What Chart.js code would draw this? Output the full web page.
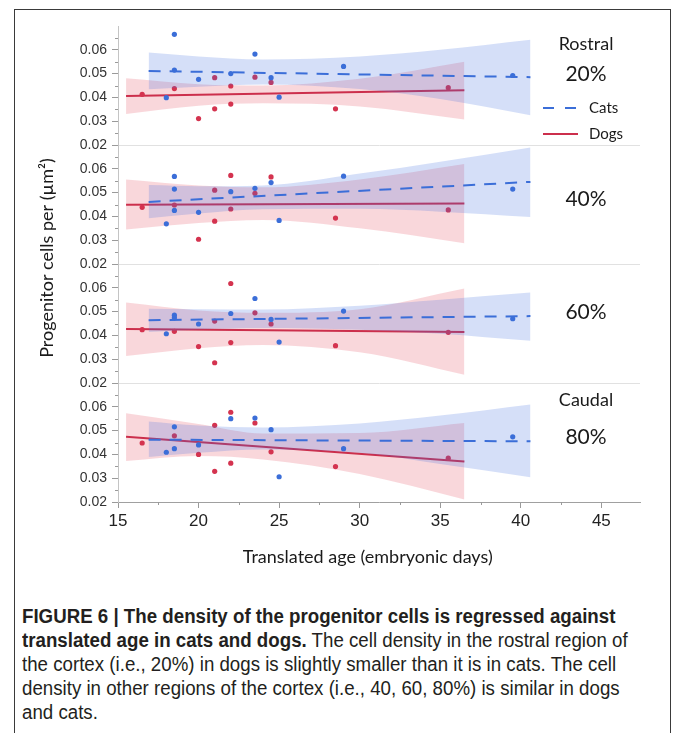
<!DOCTYPE html>
<html>
<head>
<meta charset="utf-8">
<script src="https://cdn.jsdelivr.net/npm/chart.js"></script>
<style>
  body { margin: 0; background: #fff; }
  #frame { position: absolute; left: 14px; top: 9px; width: 655px; height: 780px; border: 1px solid #3a3a3a; }
  #chart { position: absolute; left: 0; top: 0; }
  #caption {
    position: absolute; left: 22px; top: 604px; white-space: nowrap;
    font-family: "Liberation Sans Narrow", "Arial Narrow", "Liberation Sans", sans-serif;
    font-size: 20px; line-height: 24px; color: #231f20;
    transform: scaleX(0.935); transform-origin: 0 0;
  }
</style>
</head>
<body>
<div id="frame"></div>
<canvas id="chart" width="675" height="580"></canvas>
<div id="caption"><b>FIGURE 6 | The density of the progenitor cells is regressed against<br>translated age in cats and dogs.</b> The cell density in the rostral region of<br>the cortex (i.e., 20%) in dogs is slightly smaller than it is in cats. The cell<br>density in other regions of the cortex (i.e., 40, 60, 80%) is similar in dogs<br>and cats.</div>
<script>
// shared x values for the fitted lines and confidence bands
const catsFitAge = [16.9, 40.6];
const dogsFitAge = [15.5, 36.5];
const catsBandAge = [16.9, 20, 24, 30, 35, 40.6];
const dogsBandAge = [15.5, 20, 24, 30, 36.5];

// Rostral 20%
const p20CatsAge = [18, 18.5, 18.5, 20, 22, 23.5, 24.5, 25, 29, 39.5];
const p20CatsDensity = [0.0399, 0.0665, 0.0515, 0.0476, 0.0500, 0.0582, 0.0483, 0.0401, 0.0530, 0.0492];
const p20DogsAge = [16.5, 18.5, 20, 21, 21, 22, 22, 23.5, 24.5, 28.5, 35.5];
const p20DogsDensity = [0.0413, 0.0437, 0.0311, 0.0483, 0.0352, 0.0448, 0.0372, 0.0485, 0.0463, 0.0352, 0.0441];
const p20CatsFit = [0.0511, 0.0485];
const p20DogsFit = [0.0406, 0.0430];
const p20CatsUpper = [0.0589, 0.0572, 0.0559, 0.0572, 0.0600, 0.0642];
const p20CatsLower = [0.0434, 0.0445, 0.0454, 0.0435, 0.0393, 0.0325];
const p20DogsUpper = [0.0480, 0.0455, 0.0450, 0.0478, 0.0550];
const p20DogsLower = [0.0330, 0.0365, 0.0375, 0.0362, 0.0307];

// 40%
const p40CatsAge = [18, 18.5, 18.5, 18.5, 20, 22, 23.5, 24.5, 25, 29, 39.5];
const p40CatsDensity = [0.0369, 0.0568, 0.0515, 0.0425, 0.0417, 0.0504, 0.0518, 0.0542, 0.0383, 0.0569, 0.0515];
const p40DogsAge = [16.5, 18.5, 20, 21, 21, 22, 22, 23.5, 24.5, 28.5, 35.5];
const p40DogsDensity = [0.0438, 0.0448, 0.0304, 0.0510, 0.0380, 0.0572, 0.0431, 0.0497, 0.0566, 0.0393, 0.0427];
const p40CatsFit = [0.0461, 0.0545];
const p40DogsFit = [0.0449, 0.0454];
const p40CatsUpper = [0.0532, 0.0527, 0.0530, 0.0580, 0.0630, 0.0690];
const p40CatsLower = [0.0392, 0.0412, 0.0430, 0.0432, 0.0420, 0.0397];
const p40DogsUpper = [0.0555, 0.0530, 0.0522, 0.0555, 0.0620];
const p40DogsLower = [0.0345, 0.0372, 0.0385, 0.0350, 0.0287];

// 60%
const p60CatsAge = [18, 18.5, 18.5, 20, 22, 23.5, 24.5, 25, 29, 39.5];
const p60CatsDensity = [0.0407, 0.0485, 0.0474, 0.0448, 0.0492, 0.0555, 0.0467, 0.0372, 0.0502, 0.0470];
const p60DogsAge = [16.5, 18.5, 20, 21, 21, 22, 22, 23.5, 24.5, 28.5, 35.5];
const p60DogsDensity = [0.0424, 0.0417, 0.0353, 0.0460, 0.0285, 0.0618, 0.0370, 0.0495, 0.0448, 0.0357, 0.0413];
const p60CatsFit = [0.0464, 0.0481];
const p60DogsFit = [0.0427, 0.0414];
const p60CatsUpper = [0.0512, 0.0510, 0.0509, 0.0525, 0.0550, 0.0580];
const p60CatsLower = [0.0414, 0.0425, 0.0431, 0.0424, 0.0407, 0.0377];
const p60DogsUpper = [0.0538, 0.0505, 0.0495, 0.0510, 0.0597];
const p60DogsLower = [0.0313, 0.0346, 0.0360, 0.0329, 0.0235];

// Caudal 80%
const p80CatsAge = [18, 18.5, 18.5, 20, 22, 23.5, 24.5, 25, 29, 39.5];
const p80CatsDensity = [0.0409, 0.0516, 0.0424, 0.0440, 0.0550, 0.0553, 0.0504, 0.0306, 0.0424, 0.0474];
const p80DogsAge = [16.5, 18.5, 20, 21, 21, 22, 22, 23.5, 24.5, 28.5, 35.5];
const p80DogsDensity = [0.0448, 0.0478, 0.0400, 0.0522, 0.0329, 0.0577, 0.0363, 0.0532, 0.0411, 0.0349, 0.0384];
const p80CatsFit = [0.0462, 0.0455];
const p80DogsFit = [0.0474, 0.0370];
const p80CatsUpper = [0.0538, 0.0521, 0.0513, 0.0530, 0.0563, 0.0610];
const p80CatsLower = [0.0389, 0.0407, 0.0421, 0.0407, 0.0360, 0.0304];
const p80DogsUpper = [0.0573, 0.0528, 0.0488, 0.0490, 0.0532];
const p80DogsLower = [0.0372, 0.0393, 0.0379, 0.0318, 0.0211];

const xTicks = [15, 20, 25, 30, 35, 40, 45];
const yTicks = [0.02, 0.03, 0.04, 0.05, 0.06];
const regionNames = ['Rostral', '', '', 'Caudal'];
const regionPercents = ['20%', '40%', '60%', '80%'];

const catBlue = '#3b6ed8';
const dogRed = '#d4334f';

const pts = (xs, ys) => xs.map((x, i) => ({x: x, y: ys[i]}));

const panels = [
  {id: 'y20', cats: [p20CatsAge, p20CatsDensity], dogs: [p20DogsAge, p20DogsDensity], catsFit: p20CatsFit, dogsFit: p20DogsFit,
   catsBand: [p20CatsLower, p20CatsUpper], dogsBand: [p20DogsLower, p20DogsUpper]},
  {id: 'y40', cats: [p40CatsAge, p40CatsDensity], dogs: [p40DogsAge, p40DogsDensity], catsFit: p40CatsFit, dogsFit: p40DogsFit,
   catsBand: [p40CatsLower, p40CatsUpper], dogsBand: [p40DogsLower, p40DogsUpper]},
  {id: 'y60', cats: [p60CatsAge, p60CatsDensity], dogs: [p60DogsAge, p60DogsDensity], catsFit: p60CatsFit, dogsFit: p60DogsFit,
   catsBand: [p60CatsLower, p60CatsUpper], dogsBand: [p60DogsLower, p60DogsUpper]},
  {id: 'y80', cats: [p80CatsAge, p80CatsDensity], dogs: [p80DogsAge, p80DogsDensity], catsFit: p80CatsFit, dogsFit: p80DogsFit,
   catsBand: [p80CatsLower, p80CatsUpper], dogsBand: [p80DogsLower, p80DogsUpper]}
];

const datasets = [];
panels.forEach(p => {
  // dog band (lower then upper filled to it)
  datasets.push({data: pts(dogsBandAge, p.dogsBand[0]), yAxisID: p.id, showLine: true, pointRadius: 0,
    borderColor: 'transparent', borderWidth: 0, cubicInterpolationMode: 'monotone', order: 6});
  datasets.push({data: pts(dogsBandAge, p.dogsBand[1]), yAxisID: p.id, showLine: true, pointRadius: 0,
    borderColor: 'transparent', borderWidth: 0, cubicInterpolationMode: 'monotone', order: 6,
    fill: '-1', backgroundColor: 'rgba(226,72,92,0.22)'});
  datasets.push({data: pts(dogsFitAge, p.dogsFit), yAxisID: p.id, showLine: true, pointRadius: 0,
    borderColor: '#cc2f4c', borderWidth: 2, order: 5});
  datasets.push({data: pts(p.dogs[0], p.dogs[1]), yAxisID: p.id, pointRadius: 2.6, pointBorderWidth: 0,
    backgroundColor: dogRed, order: 4});
  // cat band
  datasets.push({data: pts(catsBandAge, p.catsBand[0]), yAxisID: p.id, showLine: true, pointRadius: 0,
    borderColor: 'transparent', borderWidth: 0, cubicInterpolationMode: 'monotone', order: 3});
  datasets.push({data: pts(catsBandAge, p.catsBand[1]), yAxisID: p.id, showLine: true, pointRadius: 0,
    borderColor: 'transparent', borderWidth: 0, cubicInterpolationMode: 'monotone', order: 3,
    fill: '-1', backgroundColor: 'rgba(62,110,222,0.22)'});
  datasets.push({data: pts(catsFitAge, p.catsFit), yAxisID: p.id, showLine: true, pointRadius: 0,
    borderColor: catBlue, borderWidth: 2, borderDash: [12, 9], order: 2});
  datasets.push({data: pts(p.cats[0], p.cats[1]), yAxisID: p.id, pointRadius: 2.6, pointBorderWidth: 0,
    backgroundColor: catBlue, order: 1});
});

function yAxis() {
  return {
    type: 'linear', position: 'left', stack: 'panels', min: 0.02, max: 0.07,
    afterBuildTicks: s => { s.ticks = yTicks.map(v => ({value: v})); },
    afterFit: s => { s.width = 50; },
    border: {color: '#c4c4c4'},
    grid: {
      color: c => (c.tick && Math.abs(c.tick.value - 0.02) < 1e-6) ? '#e1e1e1' : 'rgba(0,0,0,0)',
      tickColor: '#9a9a9a', tickLength: 6
    },
    ticks: {autoSkip: false, padding: 5, color: '#333', font: {family: 'Liberation Sans', size: 14},
      callback: v => v.toFixed(2)}
  };
}

// bottom-most panel first: stacked left axes are laid out top-down in reverse order
const scales = {
  x: {
    type: 'linear', min: 15, max: 47.4,
    afterBuildTicks: s => { s.ticks = xTicks.map(v => ({value: v})); },
    afterFit: s => { s.height = 40; },
    border: {color: '#a0a0a0'},
    grid: {drawOnChartArea: false, tickColor: '#9a9a9a', tickLength: 6},
    ticks: {autoSkip: false, padding: 3, color: '#222', font: {family: 'Liberation Sans', size: 17}}
  },
  y80: yAxis(), y60: yAxis(), y40: yAxis(), y20: yAxis()
};

const decorations = {
  id: 'decorations',
  afterDraw(chart) {
    const ctx = chart.ctx;
    const xs = chart.scales.x;
    const area = chart.chartArea;
    ctx.save();
    // minor ticks
    ctx.strokeStyle = '#9a9a9a';
    ctx.lineWidth = 1;
    ctx.beginPath();
    for (let v = 17.5; v < 47; v += 5) {
      const px = Math.round(xs.getPixelForValue(v)) + 0.5;
      ctx.moveTo(px, xs.top); ctx.lineTo(px, xs.top + 3);
    }
    panels.forEach(p => {
      const ys = chart.scales[p.id];
      [0.025, 0.035, 0.045, 0.055, 0.065].forEach(v => {
        const py = Math.round(ys.getPixelForValue(v)) + 0.5;
        ctx.moveTo(ys.right - 3, py); ctx.lineTo(ys.right, py);
      });
    });
    ctx.stroke();

    // region labels
    ctx.fillStyle = '#1a1a1a';
    ctx.textAlign = 'center';
    ctx.textBaseline = 'middle';
    const cx = area.right - 54;
    const nameOffset = [18, 0, 0, 17];
    const pctOffset = [48, 54, 48, 54];
    panels.forEach((p, i) => {
      const top = chart.scales[p.id].top;
      if (regionNames[i]) {
        ctx.font = '18px Lato';
        ctx.fillText(regionNames[i], cx, top + nameOffset[i]);
      }
      ctx.font = '21px Lato';
      ctx.fillText(regionPercents[i], cx, top + pctOffset[i]);
    });

    // legend in the top panel
    const top0 = chart.scales.y20.top;
    ctx.lineWidth = 2;
    ctx.strokeStyle = catBlue;
    ctx.setLineDash([11, 11]);
    ctx.beginPath();
    ctx.moveTo(area.right - 97, top0 + 82); ctx.lineTo(area.right - 63, top0 + 82);
    ctx.stroke();
    ctx.setLineDash([]);
    ctx.strokeStyle = '#cc2f4c';
    ctx.beginPath();
    ctx.moveTo(area.right - 97, top0 + 108); ctx.lineTo(area.right - 62, top0 + 108);
    ctx.stroke();
    ctx.textAlign = 'left';
    ctx.font = '15px Lato';
    ctx.fillStyle = '#1a1a1a';
    ctx.fillText('Cats', area.right - 51, top0 + 82);
    ctx.fillText('Dogs', area.right - 51, top0 + 108);

    // axis titles
    ctx.textAlign = 'center';
    ctx.font = '18px Lato';
    ctx.fillText('Translated age (embryonic days)', xs.getPixelForValue(30.5), xs.bottom + 15);
    ctx.translate(47, (area.top + area.bottom) / 2 - 6);
    ctx.rotate(-Math.PI / 2);
    ctx.fillText('Progenitor cells per (\u00b5m\u00b2)', 0, 0);
    ctx.restore();
  }
};

new Chart(document.getElementById('chart').getContext('2d'), {
  type: 'scatter',
  data: {datasets: datasets},
  options: {
    responsive: false,
    animation: false,
    layout: {padding: {left: 68, top: 26, right: 35, bottom: 38}},
    plugins: {legend: {display: false}, tooltip: {enabled: false}},
    scales: scales
  },
  plugins: [decorations]
});
</script>
</body>
</html>
